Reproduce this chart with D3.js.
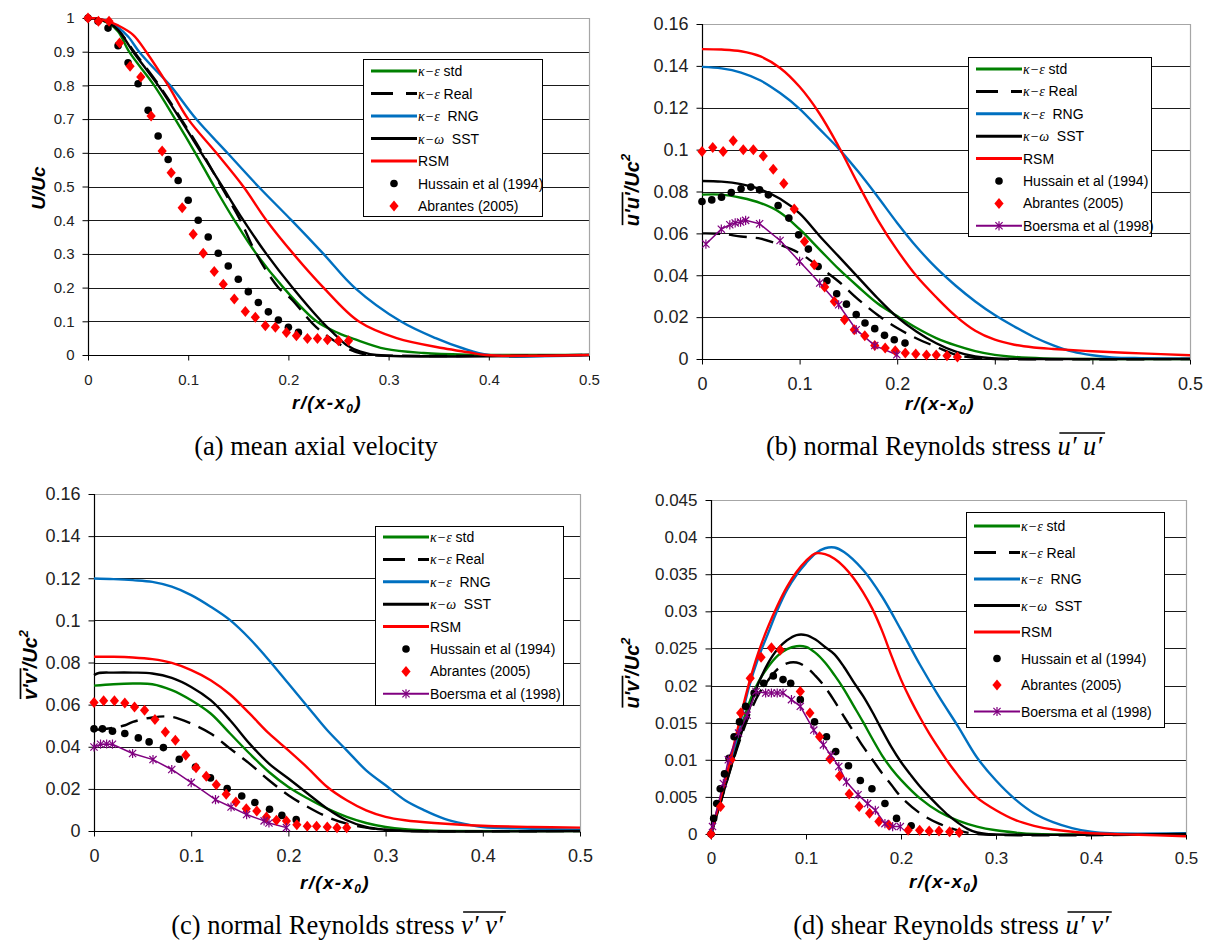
<!DOCTYPE html>
<html><head><meta charset="utf-8">
<script src="https://cdn.jsdelivr.net/npm/d3@7"></script>
<style>body{margin:0;background:#fff}svg{display:block}</style>
</head><body>
<svg id="chart" width="1205" height="940"></svg>
<script>
// ---------------- DATA ----------------
const xTicks = [0, 0.1, 0.2, 0.3, 0.4, 0.5];
const xTickLabels = ["0", "0.1", "0.2", "0.3", "0.4", "0.5"];
const yTicksA = [0, 0.1, 0.2, 0.3, 0.4, 0.5, 0.6, 0.7, 0.8, 0.9, 1];
const yTickLabelsA = ["0", "0.1", "0.2", "0.3", "0.4", "0.5", "0.6", "0.7", "0.8", "0.9", "1"];
const yTicksBC = [0, 0.02, 0.04, 0.06, 0.08, 0.1, 0.12, 0.14, 0.16];
const yTickLabelsBC = ["0", "0.02", "0.04", "0.06", "0.08", "0.1", "0.12", "0.14", "0.16"];
const yTicksD = [0, 0.005, 0.01, 0.015, 0.02, 0.025, 0.03, 0.035, 0.04, 0.045];
const yTickLabelsD = ["0", "0.005", "0.01", "0.015", "0.02", "0.025", "0.03", "0.035", "0.04", "0.045"];

const seriesKeys = ["std", "real", "rng", "sst", "rsm", "hussain", "abrantes", "boersma"];
const legendGreek = ["κ−ε", "κ−ε", "κ−ε", "κ−ω", "", "", "", ""];
const legendText = [" std", " Real", "  RNG", "  SST", "RSM", "Hussain et al (1994)", "Abrantes (2005)", "Boersma et al (1998)"];
const captionsMain = ["(a) mean axial velocity", "(b) normal Reynolds stress ", "(c) normal Reynolds stress ", "(d) shear Reynolds stress "];
const captionsSym = ["", "u′ u′", "v′ v′", "u′ v′"];

// (a) mean axial velocity
const aStd = [[0,1],[0.01,0.997],[0.02,0.985],[0.03,0.96],[0.041,0.9],[0.066,0.8],[0.087,0.7],[0.107,0.6],[0.126,0.5],[0.146,0.4],[0.168,0.3],[0.195,0.2],[0.228,0.1],[0.25,0.065],[0.266,0.047],[0.297,0.018],[0.335,0.006],[0.38,0.001],[0.42,0],[0.5,0]];
const aReal = [[0,1],[0.01,0.997],[0.02,0.987],[0.03,0.965],[0.046,0.9],[0.071,0.8],[0.093,0.7],[0.114,0.6],[0.133,0.5],[0.152,0.4],[0.168,0.3],[0.19,0.2],[0.203,0.166],[0.228,0.082],[0.2565,0.023],[0.272,0.005],[0.282,0],[0.5,0]];
const aRng = [[0,1],[0.01,0.997],[0.02,0.99],[0.03,0.972],[0.04,0.945],[0.051,0.9],[0.066,0.85],[0.082,0.8],[0.108,0.7],[0.139,0.6],[0.17,0.5],[0.203,0.4],[0.235,0.3],[0.266,0.2],[0.312,0.1],[0.347,0.05],[0.374,0.02],[0.4,0],[0.5,0]];
const aSst = [[0,1],[0.01,0.997],[0.02,0.987],[0.03,0.965],[0.045,0.9],[0.07,0.8],[0.092,0.7],[0.113,0.6],[0.134,0.5],[0.155,0.4],[0.178,0.3],[0.204,0.2],[0.233,0.1],[0.245,0.065],[0.258,0.03],[0.272,0.01],[0.288,0],[0.5,0]];
const aRsm = [[0,1],[0.01,0.998],[0.02,0.99],[0.03,0.978],[0.045,0.95],[0.058,0.9],[0.08,0.8],[0.1,0.7],[0.128,0.6],[0.155,0.5],[0.178,0.4],[0.205,0.3],[0.235,0.2],[0.27,0.1],[0.308,0.05],[0.355,0.02],[0.38,0.008],[0.397,0],[0.5,0]];
const aHussain = [[0,1],[0.01,0.99],[0.02,0.97],[0.03,0.918],[0.04,0.867],[0.05,0.805],[0.06,0.726],[0.07,0.65],[0.08,0.58],[0.09,0.518],[0.1,0.459],[0.11,0.4],[0.12,0.35],[0.13,0.302],[0.14,0.264],[0.15,0.225],[0.16,0.188],[0.17,0.156],[0.18,0.128],[0.19,0.104],[0.2,0.082],[0.21,0.067]];
const aAbrantes = [[0,1],[0.0104,0.99],[0.021,0.99],[0.0315,0.926],[0.042,0.857],[0.0527,0.825],[0.063,0.709],[0.074,0.605],[0.083,0.541],[0.094,0.437],[0.105,0.358],[0.115,0.302],[0.126,0.248],[0.135,0.21],[0.146,0.166],[0.157,0.129],[0.167,0.112],[0.177,0.087],[0.187,0.082],[0.198,0.067],[0.208,0.057],[0.219,0.049],[0.229,0.049],[0.239,0.045],[0.25,0.042],[0.26,0.042]];

// (b) normal Reynolds stress u'u'
const bStd = [[0,0.0785],[0.02,0.0785],[0.04,0.077],[0.06,0.0745],[0.08,0.07],[0.1,0.062],[0.12,0.0525],[0.14,0.043],[0.16,0.0345],[0.18,0.0265],[0.2,0.0205],[0.22,0.0148],[0.24,0.01],[0.26,0.0065],[0.28,0.0038],[0.3,0.002],[0.32,0.001],[0.35,0.0003],[0.4,0],[0.5,0]];
const bReal = [[0,0.06],[0.02,0.0598],[0.04,0.0585],[0.06,0.0575],[0.08,0.0545],[0.1,0.0505],[0.12,0.044],[0.14,0.037],[0.16,0.0285],[0.18,0.021],[0.2,0.0148],[0.22,0.0098],[0.24,0.0058],[0.26,0.002],[0.28,0.0005],[0.3,0],[0.5,0]];
const bRng = [[0,0.1395],[0.02,0.1388],[0.04,0.1368],[0.06,0.133],[0.08,0.127],[0.1,0.1195],[0.12,0.11],[0.14,0.1005],[0.16,0.0895],[0.18,0.0775],[0.2,0.065],[0.22,0.0535],[0.24,0.0435],[0.26,0.035],[0.28,0.0275],[0.3,0.021],[0.32,0.0155],[0.34,0.0105],[0.36,0.0065],[0.38,0.0035],[0.4,0.0018],[0.42,0.0008],[0.45,0.0004],[0.5,0.0002]];
const bSst = [[0,0.085],[0.02,0.0847],[0.04,0.0835],[0.06,0.081],[0.08,0.0765],[0.1,0.0695],[0.12,0.059],[0.14,0.049],[0.16,0.039],[0.18,0.029],[0.2,0.02],[0.22,0.013],[0.24,0.0075],[0.26,0.0035],[0.28,0.0012],[0.3,0.0003],[0.35,0],[0.5,0]];
const bRsm = [[0,0.148],[0.02,0.1478],[0.04,0.147],[0.06,0.1445],[0.08,0.139],[0.1,0.13],[0.12,0.1175],[0.14,0.1015],[0.16,0.0835],[0.18,0.0665],[0.2,0.052],[0.22,0.0395],[0.24,0.0295],[0.26,0.0205],[0.28,0.0135],[0.3,0.0092],[0.32,0.0068],[0.34,0.0055],[0.36,0.0048],[0.4,0.0037],[0.45,0.0027],[0.5,0.0018]];
const bHussain = [[0,0.0752],[0.01,0.076],[0.02,0.0773],[0.03,0.0795],[0.04,0.0813],[0.05,0.0821],[0.059,0.0808],[0.068,0.0784],[0.078,0.0733],[0.089,0.0673],[0.099,0.0593],[0.109,0.0525],[0.119,0.0442],[0.128,0.0374],[0.138,0.0312],[0.148,0.0262],[0.158,0.0212],[0.167,0.0172],[0.177,0.0145],[0.187,0.0113],[0.197,0.0092],[0.208,0.0076]];
const bAbrantes = [[0,0.0991],[0.011,0.101],[0.0217,0.0991],[0.032,0.1042],[0.0423,0.0999],[0.0526,0.0999],[0.0628,0.097],[0.073,0.0906],[0.0838,0.0838],[0.0945,0.0716],[0.105,0.0561],[0.115,0.045],[0.1257,0.0344],[0.1356,0.0275],[0.146,0.0188],[0.156,0.014],[0.1668,0.0111],[0.177,0.0065],[0.1877,0.0052],[0.198,0.004],[0.2083,0.0029],[0.219,0.0024],[0.23,0.0019],[0.24,0.0019],[0.251,0.0016],[0.2617,0.001]];
const bBoersma = [[0.004,0.0549],[0.0198,0.062],[0.0285,0.0641],[0.034,0.065],[0.0395,0.0654],[0.0447,0.0662],[0.059,0.0646],[0.08,0.0566],[0.1,0.0466],[0.1206,0.0363],[0.14,0.0259],[0.158,0.014],[0.177,0.0064],[0.1996,0.002]];

// (c) normal Reynolds stress v'v'
const cStd = [[0,0.069],[0.02,0.0697],[0.04,0.07],[0.06,0.0697],[0.08,0.0669],[0.1,0.0621],[0.12,0.0558],[0.14,0.0463],[0.16,0.0368],[0.18,0.028],[0.2,0.0209],[0.22,0.0154],[0.24,0.0106],[0.26,0.0067],[0.28,0.0038],[0.3,0.0019],[0.32,0.0008],[0.34,0.0003],[0.36,0],[0.5,0]];
const cReal = [[0,0.048],[0.02,0.049],[0.032,0.0502],[0.04,0.0518],[0.06,0.0539],[0.08,0.0542],[0.1,0.051],[0.12,0.0463],[0.14,0.0391],[0.16,0.032],[0.18,0.0241],[0.2,0.017],[0.22,0.0114],[0.24,0.0067],[0.26,0.0035],[0.28,0.0016],[0.3,0.0005],[0.32,0],[0.5,0]];
const cRng = [[0,0.1199],[0.02,0.1196],[0.04,0.1191],[0.06,0.1183],[0.08,0.116],[0.1,0.112],[0.12,0.1065],[0.14,0.1001],[0.16,0.0914],[0.18,0.0811],[0.2,0.07],[0.22,0.0589],[0.24,0.0478],[0.26,0.0383],[0.28,0.0288],[0.3,0.0217],[0.32,0.0146],[0.34,0.0098],[0.36,0.0059],[0.38,0.0035],[0.4,0.0019],[0.45,0.0011],[0.5,0.0006]];
const cSst = [[0,0.074],[0.005,0.075],[0.02,0.0752],[0.04,0.0752],[0.06,0.0748],[0.08,0.0727],[0.1,0.0684],[0.12,0.0621],[0.14,0.0526],[0.16,0.0415],[0.18,0.032],[0.2,0.0249],[0.22,0.0177],[0.24,0.0106],[0.26,0.0051],[0.28,0.0019],[0.3,0.0006],[0.32,0],[0.5,0]];
const cRsm = [[0,0.0827],[0.02,0.0827],[0.04,0.0824],[0.06,0.0816],[0.08,0.0798],[0.1,0.0764],[0.12,0.0716],[0.14,0.0648],[0.16,0.0558],[0.18,0.0463],[0.2,0.0383],[0.22,0.0299],[0.24,0.0209],[0.26,0.0146],[0.28,0.0098],[0.3,0.0067],[0.32,0.0051],[0.35,0.0038],[0.4,0.0025],[0.45,0.0019],[0.5,0.0016]];
const cHussain = [[0,0.0485],[0.0087,0.0485],[0.019,0.0474],[0.0317,0.0463],[0.0456,0.0442],[0.0567,0.0423],[0.0714,0.0396],[0.0877,0.0341],[0.1044,0.0304],[0.1198,0.0252],[0.137,0.0201],[0.152,0.0166],[0.1655,0.0135],[0.1806,0.0103],[0.1933,0.0074],[0.208,0.0054]];
const cAbrantes = [[0,0.061],[0.0099,0.0618],[0.021,0.0618],[0.0317,0.0608],[0.0417,0.0589],[0.052,0.0573],[0.0627,0.0529],[0.0734,0.047],[0.0837,0.0431],[0.0944,0.036],[0.105,0.03],[0.1155,0.026],[0.1258,0.022],[0.136,0.0174],[0.146,0.0138],[0.1567,0.0106],[0.1675,0.0095],[0.1774,0.0067],[0.1877,0.0051],[0.198,0.0048],[0.2087,0.003],[0.2194,0.0022],[0.229,0.0022],[0.24,0.0019],[0.25,0.0016],[0.26,0.0016]];
const cBoersma = [[0,0.0399],[0.0067,0.0412],[0.013,0.0413],[0.019,0.0412],[0.0397,0.0368],[0.0607,0.0339],[0.08,0.0292],[0.1,0.023],[0.125,0.0149],[0.141,0.0114],[0.157,0.0078],[0.175,0.0048],[0.18,0.0038],[0.198,0.0016]];

// (d) shear Reynolds stress u'v'
const dStd = [[0,0],[0.01,0.0045],[0.02,0.0091],[0.03,0.0135],[0.04,0.0176],[0.05,0.0205],[0.06,0.0225],[0.07,0.024],[0.08,0.0249],[0.09,0.0253],[0.1,0.0252],[0.11,0.0244],[0.12,0.0231],[0.13,0.0214],[0.14,0.0195],[0.15,0.0173],[0.16,0.0151],[0.17,0.0128],[0.18,0.0106],[0.19,0.0088],[0.2,0.0073],[0.22,0.0048],[0.24,0.003],[0.26,0.0018],[0.28,0.001],[0.3,0.0005],[0.32,0.0002],[0.34,0],[0.5,0]];
const dReal = [[0,0],[0.01,0.0042],[0.02,0.0085],[0.03,0.0125],[0.04,0.016],[0.05,0.0188],[0.06,0.0207],[0.07,0.0222],[0.08,0.023],[0.09,0.0231],[0.1,0.0225],[0.11,0.0213],[0.12,0.0198],[0.13,0.0179],[0.14,0.0158],[0.15,0.0138],[0.16,0.0118],[0.17,0.01],[0.18,0.0082],[0.19,0.0066],[0.2,0.005],[0.22,0.0028],[0.24,0.0014],[0.26,0.0005],[0.28,0],[0.5,0]];
const dRng = [[0,0],[0.01,0.0045],[0.02,0.0092],[0.03,0.0145],[0.04,0.0198],[0.05,0.0238],[0.06,0.027],[0.07,0.0302],[0.08,0.0329],[0.09,0.0349],[0.1,0.0365],[0.11,0.0378],[0.12,0.0385],[0.13,0.0386],[0.14,0.038],[0.16,0.0356],[0.18,0.032],[0.2,0.0275],[0.22,0.0228],[0.24,0.0185],[0.26,0.0145],[0.28,0.0103],[0.3,0.0072],[0.32,0.0047],[0.34,0.0028],[0.36,0.0016],[0.38,0.0008],[0.4,0.0003],[0.42,0.0001],[0.5,0.0001]];
const dSst = [[0,0],[0.01,0.0042],[0.02,0.0086],[0.03,0.0128],[0.04,0.0167],[0.05,0.0203],[0.06,0.023],[0.07,0.0249],[0.08,0.0261],[0.09,0.0268],[0.1,0.0268],[0.11,0.0262],[0.12,0.0252],[0.13,0.0242],[0.14,0.0225],[0.15,0.0205],[0.16,0.0186],[0.17,0.0164],[0.18,0.014],[0.19,0.0117],[0.2,0.0097],[0.21,0.008],[0.22,0.0064],[0.23,0.005],[0.24,0.0037],[0.25,0.0025],[0.26,0.0015],[0.27,0.0007],[0.28,0.0002],[0.29,0],[0.5,0]];
const dRsm = [[0,0],[0.01,0.0048],[0.02,0.0098],[0.03,0.0152],[0.04,0.0203],[0.05,0.0245],[0.06,0.0279],[0.07,0.0308],[0.08,0.0333],[0.09,0.0353],[0.1,0.0368],[0.11,0.0378],[0.12,0.0377],[0.13,0.0371],[0.14,0.036],[0.15,0.0345],[0.16,0.0326],[0.17,0.0303],[0.18,0.0274],[0.19,0.024],[0.2,0.0208],[0.21,0.0181],[0.22,0.0157],[0.23,0.0135],[0.24,0.0115],[0.25,0.0096],[0.26,0.0079],[0.27,0.0063],[0.28,0.0049],[0.3,0.0032],[0.32,0.0019],[0.34,0.0011],[0.36,0.0006],[0.4,0.0001],[0.45,-0.0001],[0.5,-0.0003]];
const dHussain = [[0,0],[0.0028,0.0021],[0.006,0.0041],[0.0097,0.0061],[0.0142,0.0081],[0.019,0.0102],[0.0243,0.0131],[0.03,0.0151],[0.0365,0.0172],[0.0454,0.019],[0.0555,0.0203],[0.0656,0.0213],[0.0758,0.0208],[0.0839,0.0203],[0.094,0.0181],[0.109,0.0151],[0.1216,0.0131],[0.1313,0.0111],[0.1447,0.0092],[0.1572,0.0072],[0.1694,0.0061],[0.1831,0.0041],[0.1953,0.0021],[0.2107,0.0011]];
const dAbrantes = [[0,0],[0.0101,0.0037],[0.0211,0.01],[0.0312,0.0163],[0.0413,0.021],[0.0527,0.0238],[0.0636,0.0251],[0.0729,0.0248],[0.094,0.0192],[0.1041,0.0163],[0.1143,0.0131],[0.1252,0.0101],[0.1353,0.0078],[0.1455,0.0054],[0.156,0.0037],[0.1669,0.0028],[0.1767,0.0017],[0.1872,0.0012],[0.2075,0.0005],[0.2196,0.0005],[0.2297,0.0004],[0.24,0.0004],[0.2512,0.0003],[0.2613,0.0002]];
const dBoersma = [[0.0016,0.001],[0.013,0.0068],[0.0182,0.01],[0.029,0.0136],[0.038,0.016],[0.0474,0.0192],[0.0575,0.019],[0.0636,0.019],[0.0697,0.019],[0.0758,0.019],[0.0847,0.0181],[0.094,0.0172],[0.1082,0.014],[0.1183,0.012],[0.1264,0.0106],[0.1345,0.0091],[0.1426,0.007],[0.1548,0.0053],[0.1649,0.0041],[0.173,0.0032],[0.1831,0.0014],[0.1912,0.001],[0.1993,0.001]];

// ---------------- STYLE / LAYOUT ----------------
const SANS = "'Liberation Sans', Arial, sans-serif";
const SERIF = "'Liberation Serif', 'Times New Roman', serif";
const style = {
  std: {color: "#008000", dash: null, w: 2.4},
  real: {color: "#000000", dash: "18,9", w: 2.4},
  rng: {color: "#0070c0", dash: null, w: 2.4},
  sst: {color: "#000000", dash: null, w: 2.4},
  rsm: {color: "#ff0000", dash: null, w: 2.4},
  hussain: {color: "#000000"},
  abrantes: {color: "#ff0000"},
  boersma: {color: "#800080", w: 1.5}
};

const panels = [
  {box: {l: 88, r: 589, t: 18, b: 355}, yMax: 1, yTicks: yTicksA, yLabels: yTickLabelsA, tickFont: 15,
   data: {std: aStd, real: aReal, rng: aRng, sst: aSst, rsm: aRsm, hussain: aHussain, abrantes: aAbrantes},
   legend: {x: 363, y: 59, w: 179, h: 157, r0: 12, dy: 22.5},
   yTitle: {x: 38, y: 188, main: "U/Uc", bar: 0, sup: false, fs: 19},
   xTitle: {x: 327, y: 409}, caption: {x: 316, y: 455}},
  {box: {l: 702, r: 1190, t: 24, b: 359}, yMax: 0.16, yTicks: yTicksBC, yLabels: yTickLabelsBC, tickFont: 18,
   data: {std: bStd, real: bReal, rng: bRng, sst: bSst, rsm: bRsm, hussain: bHussain, abrantes: bAbrantes, boersma: bBoersma},
   legend: {x: 968, y: 57, w: 183, h: 179, r0: 12, dy: 22.4},
   yTitle: {x: 632, y: 190, main: "u'u'/Uc", bar: 4, sup: true, fs: 20},
   xTitle: {x: 940, y: 410}, caption: {x: 934, y: 455}},
  {box: {l: 94, r: 580, t: 494, b: 831}, yMax: 0.16, yTicks: yTicksBC, yLabels: yTickLabelsBC, tickFont: 18,
   data: {std: cStd, real: cReal, rng: cRng, sst: cSst, rsm: cRsm, hussain: cHussain, abrantes: cAbrantes, boersma: cBoersma},
   legend: {x: 375, y: 526, w: 188, h: 179, r0: 11, dy: 22.4},
   yTitle: {x: 30, y: 665, main: "v'v'/Uc", bar: 4, sup: true, fs: 20},
   xTitle: {x: 335, y: 889}, caption: {x: 337, y: 934}},
  {box: {l: 711, r: 1186, t: 500, b: 834}, yMax: 0.045, yTicks: yTicksD, yLabels: yTickLabelsD, tickFont: 17,
   data: {std: dStd, real: dReal, rng: dRng, sst: dSst, rsm: dRsm, hussain: dHussain, abrantes: dAbrantes, boersma: dBoersma},
   legend: {x: 966, y: 512, w: 198, h: 215, r0: 14, dy: 26.5},
   yTitle: {x: 632, y: 673, main: "u'v'/Uc", bar: 4, sup: true, fs: 20},
   xTitle: {x: 944, y: 888}, caption: {x: 951, y: 934}}
];

const svg = d3.select("#chart");
svg.append("rect").attr("width", 1205).attr("height", 940).attr("fill", "#fff");

function drawMarker(g, key, x, y) {
  if (key === "hussain") {
    g.append("circle").attr("cx", x).attr("cy", y).attr("r", 3.8).attr("fill", style.hussain.color);
  } else if (key === "abrantes") {
    g.append("path").attr("transform", `translate(${x},${y})`).attr("d", "M0,-5.5L4.6,0L0,5.5L-4.6,0Z").attr("fill", style.abrantes.color);
  } else if (key === "boersma") {
    g.append("path").attr("transform", `translate(${x},${y})`)
      .attr("d", "M-3.6,-3.6L3.6,3.6M-3.6,3.6L3.6,-3.6M0,-4.6L0,4.6")
      .attr("stroke", style.boersma.color).attr("stroke-width", 1.2).attr("fill", "none");
  }
}

panels.forEach((p, pi) => {
  const g = svg.append("g");
  const x = d3.scaleLinear().domain([0, 0.5]).range([p.box.l, p.box.r]);
  const y = d3.scaleLinear().domain([0, p.yMax]).range([p.box.b, p.box.t]);

  // gridlines
  g.append("g").selectAll("line").data(p.yTicks.slice(1, -1)).join("line")
    .attr("x1", p.box.l).attr("x2", p.box.r)
    .attr("y1", d => Math.round(y(d)) + 0.5).attr("y2", d => Math.round(y(d)) + 0.5)
    .attr("stroke", "#1a1a1a").attr("stroke-width", 1);
  // plot border (top & right)
  g.append("path")
    .attr("d", `M${p.box.l},${p.box.t + 0.5}H${p.box.r + 0.5}V${p.box.b}`)
    .attr("stroke", "#a6a6a6").attr("fill", "none").attr("stroke-width", 1.2);

  const fs = p.tickFont;
  // y axis
  const yAxis = d3.axisLeft(y).tickValues(p.yTicks).tickFormat((d, i) => p.yLabels[i]).tickSize(6).tickPadding(8);
  const ya = g.append("g").attr("transform", `translate(${p.box.l + 0.5},0)`).call(yAxis);
  // x axis
  const xAxis = d3.axisBottom(x).tickValues(xTicks).tickFormat((d, i) => xTickLabels[i]).tickSize(5).tickPadding(24 - 5 - 0.36 * fs);
  const xa = g.append("g").attr("transform", `translate(0,${p.box.b + 0.5})`).call(xAxis);
  [ya, xa].forEach(a => {
    a.select(".domain").attr("stroke", "#000").attr("stroke-width", 1.2);
    a.selectAll(".tick line").attr("stroke", "#000");
    a.selectAll(".tick text").attr("font-family", SANS).attr("font-size", fs).attr("fill", "#222");
  });
  ya.select(".domain").attr("d", `M0,${p.box.t}V${p.box.b}`);
  xa.select(".domain").attr("d", `M${p.box.l},0H${p.box.r}`);

  // model lines
  const line = d3.line().x(d => x(d[0])).y(d => y(d[1])).curve(d3.curveCatmullRom.alpha(0.5));
  ["std", "real", "rng", "sst", "rsm"].forEach(k => {
    g.append("path").datum(p.data[k]).attr("d", line)
      .attr("fill", "none").attr("stroke", style[k].color).attr("stroke-width", style[k].w)
      .attr("stroke-dasharray", style[k].dash).attr("stroke-linejoin", "round");
  });
  // experiments
  const mg = g.append("g");
  if (p.data.boersma) {
    const lin = d3.line().x(d => x(d[0])).y(d => y(d[1]));
    mg.append("path").datum(p.data.boersma).attr("d", lin).attr("fill", "none")
      .attr("stroke", style.boersma.color).attr("stroke-width", style.boersma.w);
  }
  p.data.hussain.forEach(d => drawMarker(mg, "hussain", x(d[0]), y(d[1])));
  p.data.abrantes.forEach(d => drawMarker(mg, "abrantes", x(d[0]), y(d[1])));
  if (p.data.boersma) p.data.boersma.forEach(d => drawMarker(mg, "boersma", x(d[0]), y(d[1])));

  // legend
  const L = p.legend;
  const lg = g.append("g").attr("transform", `translate(${L.x},${L.y})`);
  lg.append("rect").attr("x", 0.5).attr("y", 0.5).attr("width", L.w).attr("height", L.h)
    .attr("fill", "#fff").attr("stroke", "#000").attr("stroke-width", 1);
  const keys = seriesKeys.filter(k => p.data[k]);
  keys.forEach((k, i) => {
    const idx = seriesKeys.indexOf(k);
    const ry = L.r0 + i * L.dy;
    const x0 = 8, x1 = 54, xc = 31;
    if (["std", "real", "rng", "sst", "rsm"].includes(k)) {
      lg.append("line").attr("x1", x0).attr("x2", x1).attr("y1", ry).attr("y2", ry)
        .attr("stroke", style[k].color).attr("stroke-width", 3)
        .attr("stroke-dasharray", k === "real" ? "22,13" : null);
    } else if (k === "boersma") {
      lg.append("line").attr("x1", x0).attr("x2", x1).attr("y1", ry).attr("y2", ry)
        .attr("stroke", style.boersma.color).attr("stroke-width", 2);
      drawMarker(lg, k, xc, ry);
    } else {
      drawMarker(lg, k, xc, ry);
    }
    const t = lg.append("text").attr("x", 55).attr("y", ry + 5)
      .attr("font-family", SANS).attr("font-size", 14).attr("fill", "#000");
    if (legendGreek[idx]) {
      t.append("tspan").attr("font-family", SERIF).attr("font-style", "italic").attr("font-size", 14).text(legendGreek[idx]);
    }
    t.append("tspan").style("white-space", "pre").text(legendText[idx]);
  });

  // y title
  const yt = p.yTitle;
  const tg = g.append("g").attr("transform", `translate(${yt.x},${yt.y}) rotate(-90)`);
  const tt = tg.append("text").attr("font-family", SANS).attr("font-weight", "bold").attr("font-style", "italic")
    .attr("font-size", yt.fs).attr("fill", "#000").attr("y", 7);
  tt.append("tspan").text(yt.main);
  if (yt.sup) tt.append("tspan").attr("dy", -9).attr("font-size", 13).text("2");
  const total = tt.node().getComputedTextLength();
  tt.attr("x", -total / 2);
  if (yt.bar) {
    const bl = tt.node().getSubStringLength(0, yt.bar);
    tg.append("line").attr("x1", -total / 2 + 1).attr("x2", -total / 2 + bl).attr("y1", -9.5).attr("y2", -9.5)
      .attr("stroke", "#000").attr("stroke-width", 1.7);
  }

  // x title
  const xt = g.append("text").attr("font-family", SANS).attr("font-weight", "bold").attr("font-style", "italic")
    .attr("font-size", 19).attr("letter-spacing", 1.3).attr("fill", "#000").attr("y", p.xTitle.y);
  xt.append("tspan").text("r/(x-x");
  xt.append("tspan").attr("font-size", 12).attr("dy", 4).text("0");
  xt.append("tspan").attr("dy", -4).text(")");
  const xtw = xt.node().getComputedTextLength();
  xt.attr("x", p.xTitle.x - xtw / 2);

  // caption
  const cap = g.append("text").attr("font-family", SERIF).attr("font-size", 26.5).attr("fill", "#000").attr("y", p.caption.y);
  cap.append("tspan").style("white-space", "pre").text(captionsMain[pi]);
  if (captionsSym[pi]) cap.append("tspan").attr("font-style", "italic").style("white-space", "pre").text(captionsSym[pi]);
  const cw = cap.node().getComputedTextLength();
  const cx0 = p.caption.x - cw / 2;
  cap.attr("x", cx0);
  if (captionsSym[pi]) {
    const n0 = captionsMain[pi].length;
    const pre = cap.node().getSubStringLength(0, n0);
    const sw = cap.node().getSubStringLength(n0, captionsSym[pi].length);
    g.append("line").attr("x1", cx0 + pre + 2).attr("x2", cx0 + pre + sw + 3)
      .attr("y1", p.caption.y - 22).attr("y2", p.caption.y - 22).attr("stroke", "#000").attr("stroke-width", 1.3);
  }
});
</script>
</body></html>
